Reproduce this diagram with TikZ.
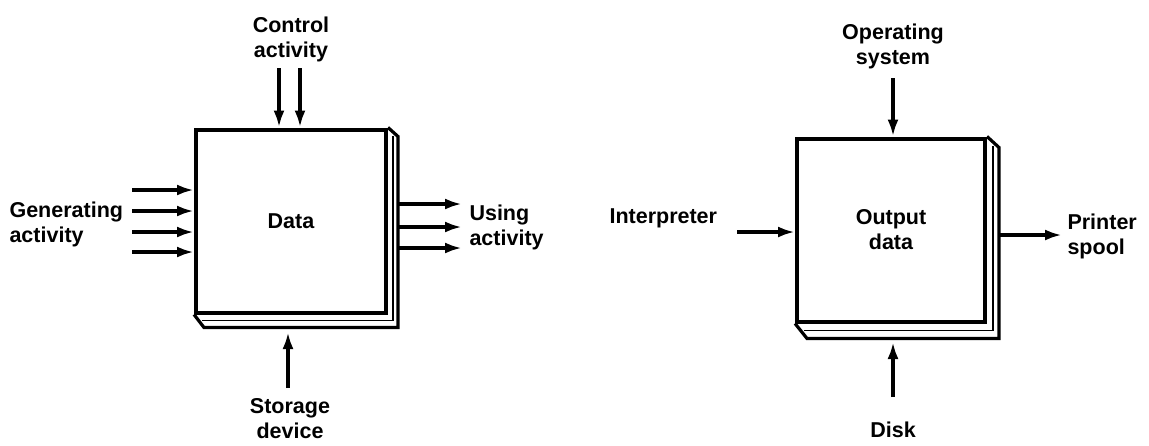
\documentclass[tikz,border=0pt]{standalone}
\usepackage{fontspec}
\setmainfont{Liberation Sans}
\usetikzlibrary{arrows.meta,positioning,calc}

\tikzset{
  box/.style={draw,line width=4pt,fill=white,minimum width=190pt,minimum height=183pt,inner sep=0pt},
  depth/.style={draw,line width=3.2pt,line join=miter},
  flow/.style={-{Latex[length=17pt,width=11pt]},line width=3.6pt},
  lbl/.style={font=\fontsize{21.5}{25}\selectfont\bfseries}
}

\begin{document}
\begin{tikzpicture}[x=1pt,y=-1pt]
  \useasboundingbox (0,0) rectangle (1149,445);

  % left picture
  \node[box] (data) at (291,221) {};
  \draw[depth] (data.north east) -- ++(10,9) -- ($(data.south east)+(10,13)$) -- ($(data.south west)+(10,13)$) -- (data.south west);
  \draw[line width=1.2pt] ($(data.north east)+(5,8)$) -- ($(data.south east)+(5,6)$) -- ($(data.south west)+(8,6)$);
  \node[lbl] (datatxt) at (data.center) {Data};

  \node[lbl,align=center] (control) at (291,39) {Control\\activity};
  \node[lbl,align=left,anchor=west] (generating) at (6,224) {Generating\\activity};
  \node[lbl,align=left,anchor=west] (using) at (466,227) {Using\\activity};
  \node[lbl,align=center] (storage) at (290,419) {Storage\\device};

  \foreach \x [count=\i] in {279,300}
    \coordinate (c\i) at (\x,68);
  \foreach \i in {1,2}
    \draw[flow] (c\i) -- (c\i |- data.north);
  \foreach \y [count=\i] in {190,211,232,252}
    \coordinate (g\i) at (132,\y);
  \foreach \i in {1,...,4}
    \draw[flow] (g\i) -- (g\i -| data.west);
  \foreach \y [count=\i] in {204,227,248}
    \coordinate (u\i) at (462,\y);
  \foreach \i in {1,2,3}
    \draw[flow] (u\i -| data.east) ++(10,0) -- (u\i);
  \coordinate (st) at (288,388);
  \draw[flow] (st) -- ++(0,-56);

  % right picture
  \node[box,minimum width=188pt] (out) at (891,230) {};
  \draw[depth] (out.north east) -- ++(12,11) -- ($(out.south east)+(12,15)$) -- ($(out.south west)+(12,15)$) -- (out.south west);
  \draw[line width=1.2pt] ($(out.north east)+(6,9)$) -- ($(out.south east)+(6,7)$) -- ($(out.south west)+(9,7)$);
  \node[lbl,align=center] (outtxt) at (out.center) {Output\\data};

  \node[lbl,align=center] (opsys) at (893,46) {Operating\\system};
  \node[lbl,anchor=west] (interp) at (606,218) {Interpreter};
  \node[lbl,align=left,anchor=west] (printer) at (1064,236) {Printer\\spool};
  \node[lbl] (disk) at (893,430) {Disk};

  \coordinate (os) at (893,78);
  \draw[flow] (os) -- (os |- out.north);
  \coordinate (ip) at (737,232);
  \draw[flow] (ip) -- (ip -| out.west);
  \coordinate (pr) at (1062,235);
  \draw[flow] (pr -| out.east) ++(12,0) -- (pr);
  \coordinate (dk) at (893,397);
  \draw[flow] (dk) -- ++(0,-55);
\end{tikzpicture}
\end{document}
